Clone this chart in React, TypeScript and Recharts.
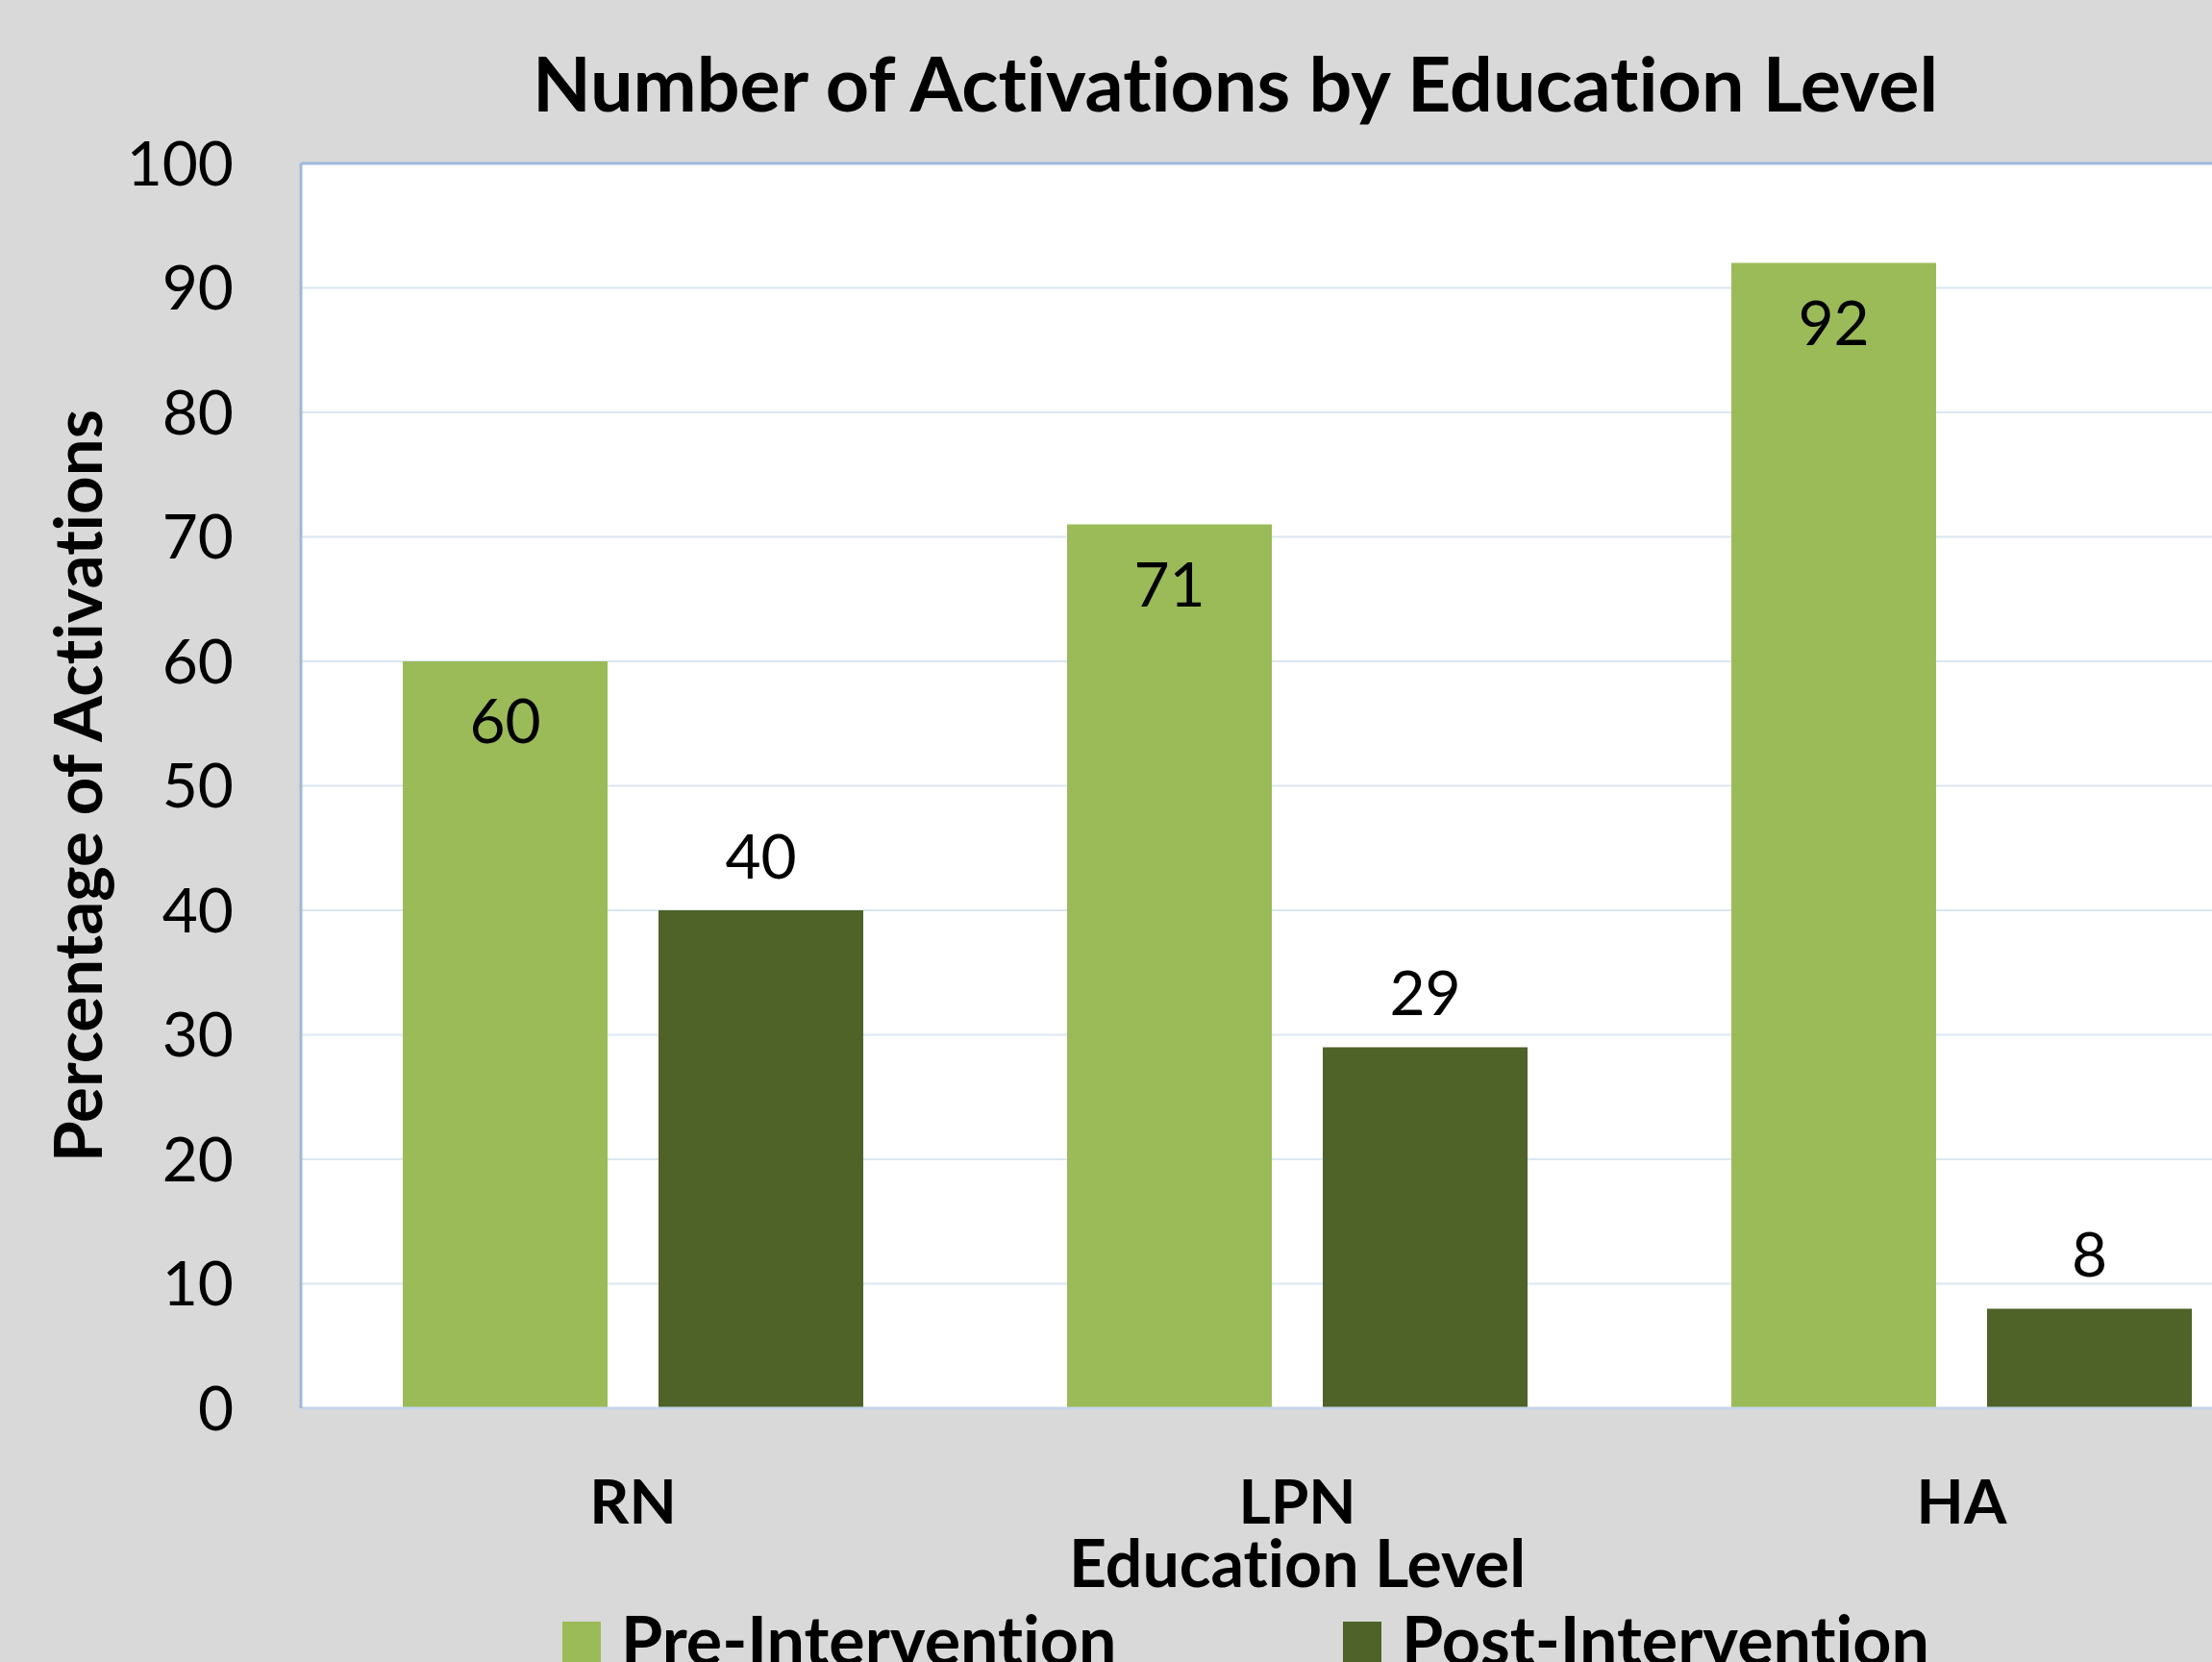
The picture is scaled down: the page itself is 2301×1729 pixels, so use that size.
import { Bar, BarChart, CartesianGrid, Label, LabelList, ReferenceLine, XAxis, YAxis } from "recharts";

const levels = ["RN", "LPN", "HA"];
const preIntervention = [60, 71, 92];
const postIntervention = [40, 29, 8];
const yTicks = [0, 10, 20, 30, 40, 50, 60, 70, 80, 90, 100];
const seriesNames = ["Pre-Intervention", "Post-Intervention"];

const PRE = "#9bbb59";
const POST = "#4f6228";
const BORDER = "#9db9dd";
const GRID = "#dce6f2";
const BG = "#d9d9d9";
const FONT = "Lato, 'Open Sans', sans-serif";

const data = levels.map((level, i) => ({ level, pre: preIntervention[i], post: postIntervention[i] }));

function LegendRow() {
  const colors = [PRE, POST];
  const starts = [585, 1397];
  return (
    <>
      {seriesNames.map((name, i) => (
        <div key={name} style={{ position: "absolute", left: starts[i], top: 1663, height: 84, whiteSpace: "nowrap" }}>
          <span style={{ position: "absolute", left: 0, top: 24, width: 40, height: 42, background: colors[i] }} />
          <span style={{ position: "absolute", left: 61, top: 0, fontFamily: FONT, fontWeight: 700, fontSize: 70, lineHeight: "84px", color: "#000" }}>
            {name}
          </span>
        </div>
      ))}
    </>
  );
}

export default function App() {
  return (
    <div style={{ position: "fixed", left: 0, top: 0, width: 2301, height: 1729, overflow: "hidden", background: BG, fontVariantLigatures: "none" }}>
      <div style={{ position: "absolute", left: 0, width: 2570, top: 46, textAlign: "center", fontFamily: FONT, fontWeight: 700, fontSize: 79, lineHeight: "80px", color: "#000", whiteSpace: "nowrap" }}>
        Number of Activations by Education Level
      </div>
      <BarChart width={2400} height={1729} data={data} margin={{ top: 170, right: 14, bottom: 0, left: 0 }}
        barCategoryGap="15.5%" barGap={53} style={{ position: "absolute", left: 0, top: 0 }}>
        <CartesianGrid horizontal vertical={false} stroke={GRID} strokeWidth={2} fill="#ffffff" />
        <ReferenceLine y={100} stroke={BORDER} strokeWidth={3} />
        <XAxis dataKey="level" height={264} tickLine={false} tickSize={0} tickMargin={75}
          axisLine={{ stroke: "#c5d5e8", strokeWidth: 3 }}
          tick={{ fill: "#000", fontSize: 64, fontWeight: 700, fontFamily: FONT }}>
          <Label value="Education Level" position="insideTop" offset={138}
            style={{ fill: "#000", fontSize: 68, fontWeight: 700, fontFamily: FONT }} />
        </XAxis>
        <YAxis width={313} domain={[0, 100]} ticks={yTicks} interval={0} tickLine={false} tickSize={0} tickMargin={70}
          axisLine={{ stroke: BORDER, strokeWidth: 3 }}
          tick={{ fill: "#000", fontSize: 64, fontFamily: FONT }}>
          <Label content={({ viewBox }: any) => {
            const cx = 79;
            const cy = viewBox.y + viewBox.height / 2;
            return (
              <text x={cx} y={cy} transform={`rotate(-90 ${cx} ${cy})`} textAnchor="middle" dominantBaseline="central"
                style={{ fill: "#000", fontSize: 69, fontWeight: 700, fontFamily: FONT }}>
                Percentage of Activations
              </text>
            );
          }} />
        </YAxis>
        <Bar dataKey="pre" name={seriesNames[0]} fill={PRE} barSize={213} isAnimationActive={false}>
          <LabelList dataKey="pre" position="insideTop" offset={40} style={{ fill: "#000", fontSize: 64, fontFamily: FONT }} />
        </Bar>
        <Bar dataKey="post" name={seriesNames[1]} fill={POST} barSize={213} isAnimationActive={false}>
          <LabelList dataKey="post" position="top" offset={33} style={{ fill: "#000", fontSize: 64, fontFamily: FONT }} />
        </Bar>
      </BarChart>
      <LegendRow />
    </div>
  );
}
